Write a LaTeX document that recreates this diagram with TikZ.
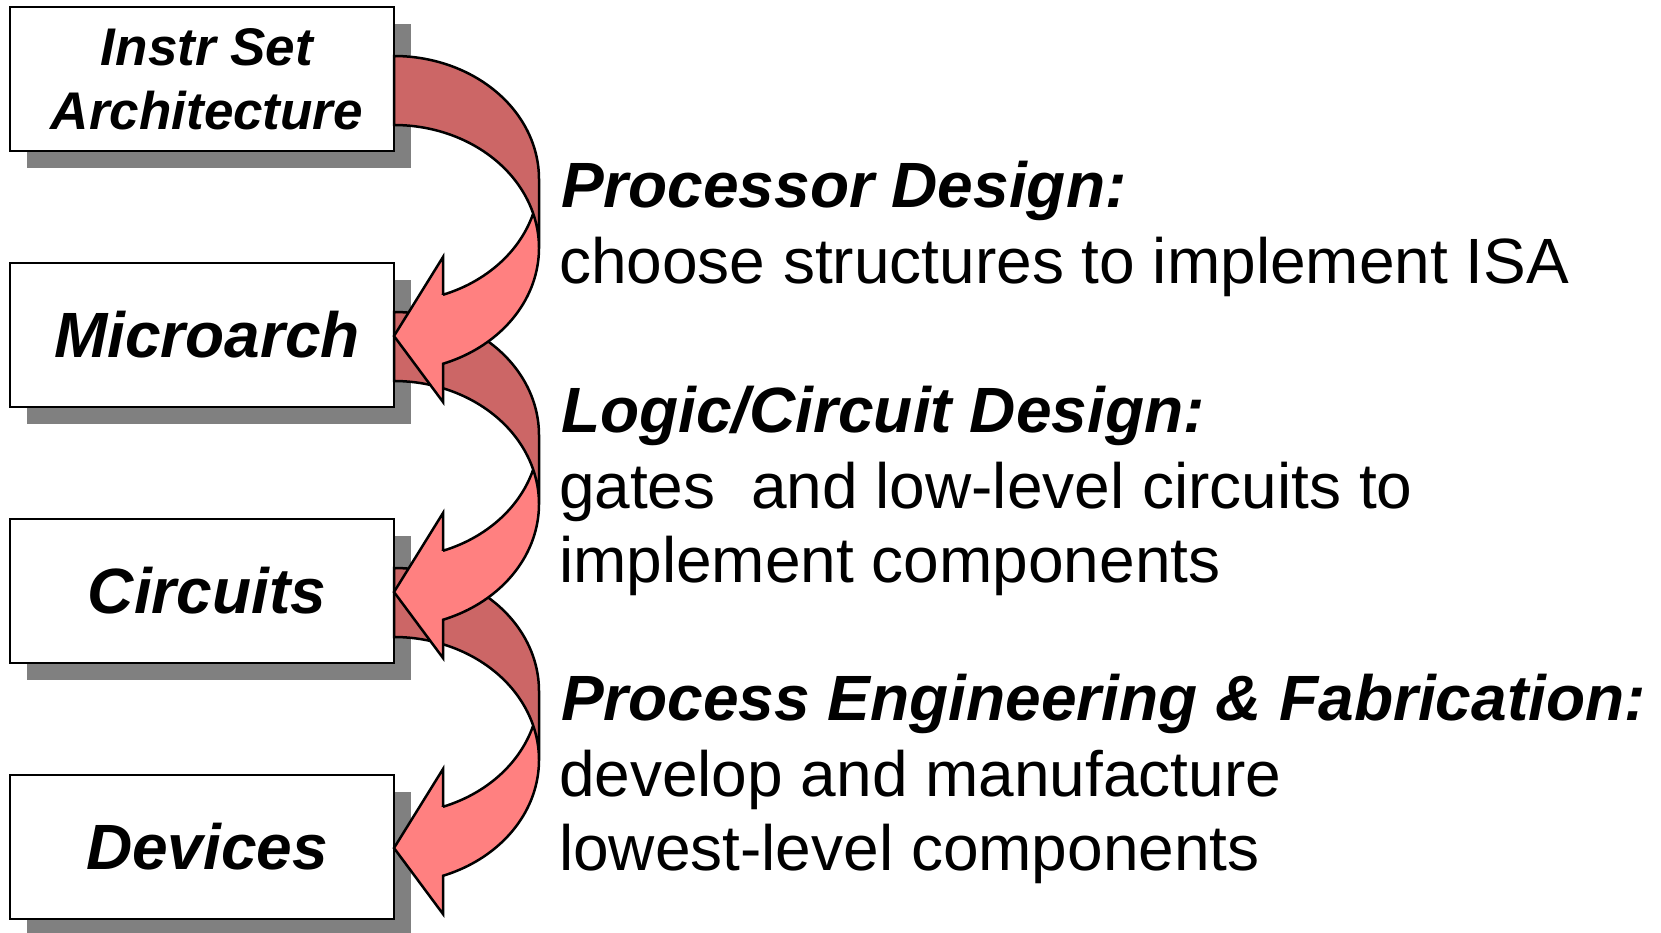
\documentclass[tikz,border=0pt]{standalone}
\usepackage{fontspec}
\setmainfont{Liberation Sans}
\usetikzlibrary{shadows}
\definecolor{arrdark}{HTML}{CC6666}
\definecolor{arrlight}{HTML}{FF8080}
\definecolor{shadowgray}{HTML}{808080}
\tikzset{
  box/.style={draw=black, line width=2.5pt, fill=white, minimum width=384pt, minimum height=144pt,
    inner sep=0pt, outer sep=0pt, align=center,
    drop shadow={shadow xshift=17pt, shadow yshift=-17pt, fill=shadowgray, opacity=1}},
  boxfont/.style={font=\fontsize{64}{75}\selectfont\bfseries\itshape},
  headfont/.style={font=\fontsize{64}{75}\selectfont\bfseries\itshape},
  bodyfont/.style={font=\fontsize{64}{75}\selectfont},
  txt/.style={anchor=base west, inner sep=0pt, outer sep=0pt},
  arrline/.style={draw=black, line width=2.5pt, line join=miter}
}
\newcommand{\bentarrow}[1]{%
\begin{scope}[shift={(#1.east)}]
  \fill[arrlight] (0,257) -- (49,178) -- (49,215.8)
    -- plot[smooth, domain=70.25:16.29, samples=30, variable=\t] ({145*cos(\t)},{100+123*sin(\t)})
    -- plot[smooth, domain=-16.29:70.25, samples=40, variable=\t] ({145*cos(\t)},{169+123*sin(\t)})
    -- (49,323) -- cycle;
  \fill[arrdark] (145,169)
    -- plot[smooth, domain=0:-90, samples=40, variable=\t] ({145*cos(\t)},{169+123*sin(\t)})
    -- (0,-23)
    -- plot[smooth, domain=-90:0, samples=40, variable=\t] ({145*cos(\t)},{100+123*sin(\t)})
    -- cycle;
  \draw[arrline] plot[smooth, domain=0:-90, samples=40, variable=\t] ({145*cos(\t)},{169+123*sin(\t)})
    -- (0,-23)
    -- plot[smooth, domain=-90:0, samples=40, variable=\t] ({145*cos(\t)},{100+123*sin(\t)})
    -- (145,169)
    -- plot[smooth, domain=0:70.25, samples=40, variable=\t] ({145*cos(\t)},{169+123*sin(\t)})
    -- (49,323) -- (0,257) -- (49,178) -- (49,215.8)
    -- plot[smooth, domain=70.25:16.29, samples=30, variable=\t] ({145*cos(\t)},{100+123*sin(\t)});
\end{scope}}
\begin{document}
\begin{tikzpicture}[x=1pt, y=-1pt]
\useasboundingbox (0,0) rectangle (1661,932);
\fill[white] (0,0) rectangle (1661,932);
% boxes
\node[box, font=\fontsize{53}{63.6}\selectfont\bfseries\itshape] (isa) at (202,79) {\hspace*{10pt}Instr Set\\\hspace*{10pt}Architecture};
\node[box, boxfont] (micro) at (202,335) {\hspace*{10pt}Microarch};
\node[box, boxfont] (circ) at (202,591) {\hspace*{10pt}Circuits};
\node[box, boxfont] (dev) at (202,847) {\hspace*{10pt}Devices};
% arrows (lower ones first)
\bentarrow{circ}
\bentarrow{micro}
\bentarrow{isa}
% texts
\node[txt, headfont] (h1) at (561,207.6) {Processor Design:};
\node[txt, bodyfont] (d1) at (559,283.9) {choose structures to implement ISA};
\node[txt, headfont] (h2) at (561,432) {Logic/Circuit Design:};
\node[txt, bodyfont] (d2a) at (559,508.5) {gates\ \ and low-level circuits to};
\node[txt, bodyfont] (d2b) at (559,582.6) {implement components};
\node[txt, headfont] (h3) at (561,720) {Process Engineering \& Fabrication:};
\node[txt, bodyfont] (d3a) at (559,796.6) {develop and manufacture};
\node[txt, bodyfont] (d3b) at (559,870.7) {lowest-level components};
\end{tikzpicture}
\end{document}
